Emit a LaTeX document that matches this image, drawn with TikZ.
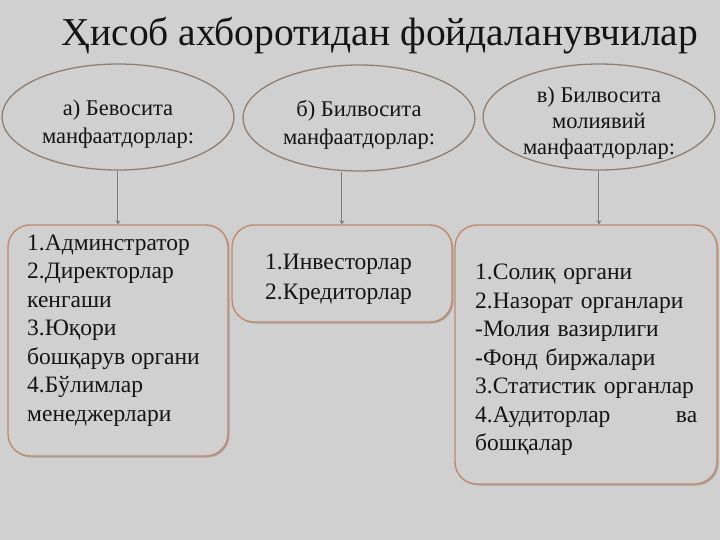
\documentclass[tikz,border=0pt]{standalone}
\usepackage{fontspec}
\setmainfont{Liberation Serif}
\usetikzlibrary{shapes.geometric,arrows.meta,shadows}
\definecolor{bg}{HTML}{D0D0D0}
\definecolor{ellline}{HTML}{8E7F72}
\definecolor{boxline}{HTML}{C08A6A}
\definecolor{shadowc}{HTML}{8A8A8A}
\definecolor{arrowc}{HTML}{7A7A7A}
\definecolor{txt}{HTML}{141414}
\tikzset{
  ell/.style={ellipse, draw=ellline, line width=1.3pt, inner sep=0pt,
    minimum width=232pt, minimum height=106pt},
  elltext/.style={inner sep=0pt, align=center, text=txt,
    font=\fontsize{22.5}{28.3}\selectfont},
  rbox/.style={draw=boxline, line width=1.4pt, rounded corners=22pt,
    inner sep=0pt, drop shadow={shadow xshift=1.5pt, shadow yshift=-1.5pt, fill=shadowc, opacity=0.6}, fill=bg},
  body/.style={anchor=north west, inner sep=0pt, align=left, text=txt,
    font=\fontsize{23.5}{28.5}\selectfont},
  conn/.style={draw=arrowc, line width=0.7pt, double=bg!90!white, double distance=0.9pt,
    -{Stealth[length=4pt,width=5pt]}}
}
\begin{document}
\begin{tikzpicture}[x=1pt,y=-1pt]
\fill[bg] (0,0) rectangle (720,540);
\useasboundingbox (0,0) rectangle (720,540);

\node[anchor=base, inner sep=0pt, text=txt, font=\fontsize{39.5}{44}\selectfont] (title) at (380,45.5) {Ҳисоб ахборотидан фойдаланувчилар};

\node[ell] (ea) at (118,117) {};
\node[ell] (eb) at (359,118) {};
\node[ell] (ec) at (599,117) {};
\node[elltext] (la) at (118,124) {а) Бевосита\\манфаатдорлар:};
\node[elltext] (lb) at (359,124.8) {б) Билвосита\\манфаатдорлар:};
\node[elltext, font=\fontsize{22.5}{25.9}\selectfont] (lc) at (599,123) {в) Билвосита\\молиявий\\манфаатдорлар:};

\node[rbox, minimum width=220pt, minimum height=231pt] (ba) at (118,340.5) {};
\node[rbox, minimum width=220pt, minimum height=97pt] (bb) at (342,273.5) {};
\node[rbox, minimum width=262pt, minimum height=259pt] (bc) at (586,354.5) {};

\node[body] (ta) at (27,234.4) {1.Админстратор\\2.Директорлар\\кенгаши\\3.Юқори\\бошқарув органи\\4.Бўлимлар\\менеджерлари};
\node[body, font=\fontsize{23.5}{29.3}\selectfont] (tb) at (265,254) {1.Инвесторлар\\2.Кредиторлар};
\node[body, text width=222pt] (tc) at (475,264.1) {1.Солиқ органи\\2.Назорат органлари\\-Молия вазирлиги\\-Фонд биржалари\\3.Статистик органлар\\\makebox[222pt][s]{4.Аудиторлар\hfill ва}\\бошқалар};

\draw[conn] (ea.south) -- (ba.north);
\draw[conn] (eb.south -| bb.north) -- (bb.north);
\draw[conn] (ec.south) -- (ec.south |- bc.north);
\end{tikzpicture}
\end{document}
